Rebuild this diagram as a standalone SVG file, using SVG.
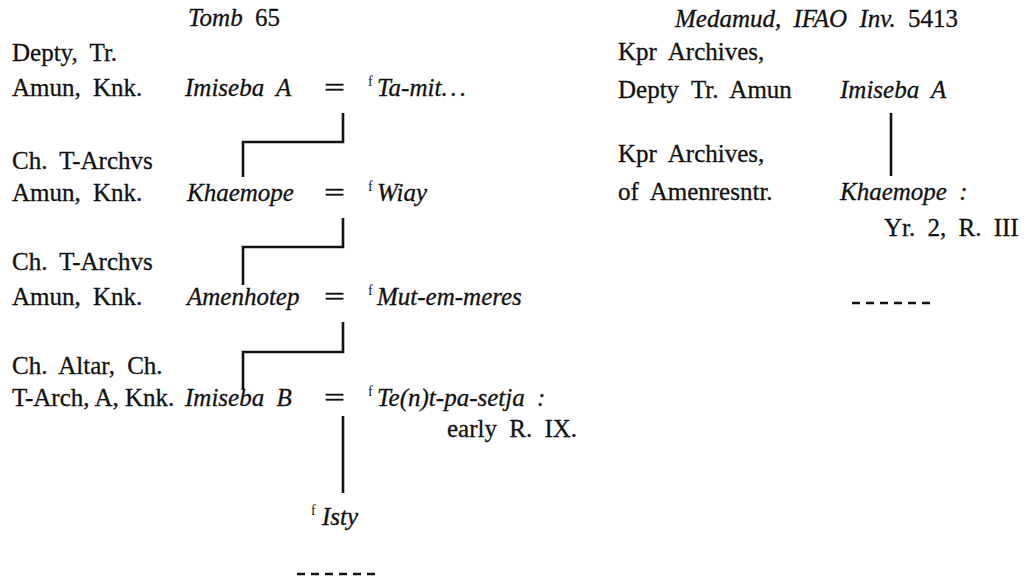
<svg xmlns="http://www.w3.org/2000/svg" width="1029" height="577" viewBox="0 0 1029 577">
<style>
.t{font-family:"Liberation Serif","Times New Roman",serif;font-size:25px;fill:#111;stroke:#111;stroke-width:0.3;word-spacing:6px}
.i{font-style:italic}
.s{font-family:"Liberation Serif","Times New Roman",serif;font-size:14px;fill:#111}
.ln{stroke:#111;stroke-width:2.6;fill:none}
.dash{stroke:#111;stroke-width:2.5;stroke-dasharray:8 6}
</style>
<rect width="1029" height="577" fill="#fff"/>
<g id="headings">
<text class="t" x="188" y="26"><tspan class="i">Tomb</tspan> 65</text>
<text class="t" x="675" y="27"><tspan class="i">Medamud, IFAO Inv.</tspan> 5413</text>
</g>
<g id="imiseba-a-tomb">
<text class="t" x="12" y="61">Depty, Tr.</text>
<text class="t" x="12" y="96">Amun, Knk.</text>
<text class="t i" x="185" y="96">Imiseba A</text>
<text class="t" x="324" y="96" textLength="21" lengthAdjust="spacingAndGlyphs">=</text>
</g>
<g id="ta-mit">
<text class="s" x="368" y="86">f</text>
<text class="t i" x="377" y="96">Ta-mit<tspan letter-spacing="3">...</tspan></text>
</g>
<g id="khaemope-tomb">
<text class="t" x="12" y="169">Ch. T-Archvs</text>
<text class="t" x="12" y="201">Amun, Knk.</text>
<text class="t i" x="187" y="201">Khaemope</text>
<text class="t" x="324" y="201" textLength="21" lengthAdjust="spacingAndGlyphs">=</text>
</g>
<g id="wiay">
<text class="s" x="368" y="191">f</text>
<text class="t i" x="377" y="201">Wiay</text>
</g>
<g id="amenhotep">
<text class="t" x="12" y="270">Ch. T-Archvs</text>
<text class="t" x="12" y="305">Amun, Knk.</text>
<text class="t i" x="187" y="305">Amenhotep</text>
<text class="t" x="324" y="305" textLength="21" lengthAdjust="spacingAndGlyphs">=</text>
</g>
<g id="mut-em-meres">
<text class="s" x="368" y="295">f</text>
<text class="t i" x="377" y="305">Mut-em-meres</text>
</g>
<g id="imiseba-b">
<text class="t" x="12" y="374">Ch. Altar, Ch.</text>
<text class="t" x="12" y="406" style="word-spacing:0">T-Arch, A, Knk.</text>
<text class="t i" x="185" y="406">Imiseba B</text>
<text class="t" x="324" y="406" textLength="21" lengthAdjust="spacingAndGlyphs">=</text>
</g>
<g id="tentpasetja">
<text class="s" x="368" y="396">f</text>
<text class="t i" x="377" y="406">Te(n)t-pa-setja :</text>
<text class="t" x="447" y="437">early R. IX.</text>
</g>
<g id="isty">
<text class="s" x="311" y="515">f</text>
<text class="t i" x="322" y="525">Isty</text>
</g>
<g id="imiseba-a-medamud">
<text class="t" x="618" y="60">Kpr Archives,</text>
<text class="t" x="618" y="98">Depty Tr. Amun</text>
<text class="t i" x="840" y="98">Imiseba A</text>
</g>
<g id="khaemope-medamud">
<text class="t" x="618" y="162">Kpr Archives,</text>
<text class="t" x="618" y="200">of Amenresntr.</text>
<text class="t i" x="840" y="200">Khaemope :</text>
<text class="t" x="884" y="236">Yr. 2, R. III</text>
</g>
<g id="connectors">
<path class="ln" d="M343,113 V142 H243 V177"/>
<path class="ln" d="M343,218 V247 H243 V285"/>
<path class="ln" d="M343,322 V352 H243 V389"/>
<path class="ln" d="M343,416 V493"/>
<path class="ln" d="M891,113 V176"/>
<line class="dash" x1="297" y1="574" x2="377" y2="574"/>
<line class="dash" x1="852" y1="303" x2="930" y2="303"/>
</g>
</svg>
